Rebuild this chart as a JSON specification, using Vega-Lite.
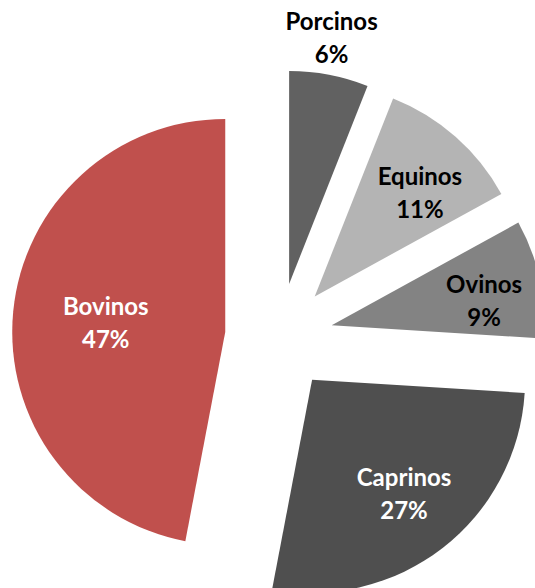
{
  "$schema": "https://vega.github.io/schema/vega-lite/v6.json",
  "width": 535,
  "height": 588,
  "autosize": {"type": "fit", "contains": "padding"},
  "padding": 0,
  "background": "white",
  "view": {"stroke": null},
  "data": {
    "values": [
      {"cat": "Porcinos", "pct": 6},
      {"cat": "Equinos", "pct": 11},
      {"cat": "Ovinos", "pct": 9},
      {"cat": "Caprinos", "pct": 27},
      {"cat": "Bovinos", "pct": 47}
    ]
  },
  "transform": [
    {"window": [{"op": "sum", "field": "pct", "as": "cum"}], "frame": [null, 0]},
    {"calculate": "datum.cum - datum.pct", "as": "start"},
    {"calculate": "datum.cum - datum.pct / 2", "as": "mid"},
    {"calculate": "sin(2 * PI * datum.mid / 100)", "as": "ex"},
    {"calculate": "-cos(2 * PI * datum.mid / 100)", "as": "ey"},
    {"calculate": "datum.cat + '\\n' + datum.pct + '%'", "as": "label"}
  ],
  "encoding": {
    "x": {"field": "ex", "type": "quantitative", "scale": {"domain": [-1, 1], "range": [225, 333], "zero": false, "nice": false}, "axis": null},
    "y": {"field": "ey", "type": "quantitative", "scale": {"domain": [-1, 1], "range": [283, 391], "zero": false, "nice": false}, "axis": null}
  },
  "layer": [
    {
      "mark": {"type": "arc", "radius": 213},
      "encoding": {
        "theta": {"field": "start", "type": "quantitative", "stack": null, "scale": {"domain": [0, 100], "range": [0, 6.283185307179586]}},
        "theta2": {"field": "cum"},
        "color": {
          "field": "cat", "type": "nominal", "legend": null,
          "scale": {"domain": ["Porcinos", "Equinos", "Ovinos", "Caprinos", "Bovinos"], "range": ["#616161", "#b4b4b4", "#838383", "#4f4f4f", "#c0504d"]}
        }
      }
    },
    {
      "transform": [{"filter": "datum.cat == 'Bovinos'"}],
      "mark": {"type": "text", "radius": 120, "dy": -13, "font": "Lato", "fontSize": 24, "fontWeight": "bold", "lineBreak": "\n", "lineHeight": 33, "align": "center", "baseline": "middle"},
      "encoding": {
        "theta": {"field": "mid", "type": "quantitative", "stack": null},
        "text": {"field": "label"},
        "color": {"value": "white"}
      }
    },
    {
      "transform": [{"filter": "datum.cat == 'Caprinos'"}],
      "mark": {"type": "text", "radius": 150, "dy": -19, "font": "Lato", "fontSize": 24, "fontWeight": "bold", "lineBreak": "\n", "lineHeight": 33, "align": "center", "baseline": "middle"},
      "encoding": {
        "theta": {"field": "mid", "type": "quantitative", "stack": null},
        "text": {"field": "label"},
        "color": {"value": "white"}
      }
    },
    {
      "transform": [{"filter": "datum.cat == 'Equinos' || datum.cat == 'Ovinos'"}],
      "mark": {"type": "text", "radius": 150, "dx": 6, "dy": -6, "font": "Lato", "fontSize": 24, "fontWeight": "bold", "lineBreak": "\n", "lineHeight": 33, "align": "center", "baseline": "middle"},
      "encoding": {
        "theta": {"field": "mid", "type": "quantitative", "stack": null},
        "text": {"field": "label"},
        "color": {"value": "black"}
      }
    },
    {
      "transform": [{"filter": "datum.cat == 'Porcinos'"}],
      "mark": {"type": "text", "radius": 248, "dx": -4, "dy": -17, "font": "Lato", "fontSize": 24, "fontWeight": "bold", "lineBreak": "\n", "lineHeight": 33, "align": "center", "baseline": "middle"},
      "encoding": {
        "theta": {"field": "mid", "type": "quantitative", "stack": null},
        "text": {"field": "label"},
        "color": {"value": "black"}
      }
    }
  ]
}
